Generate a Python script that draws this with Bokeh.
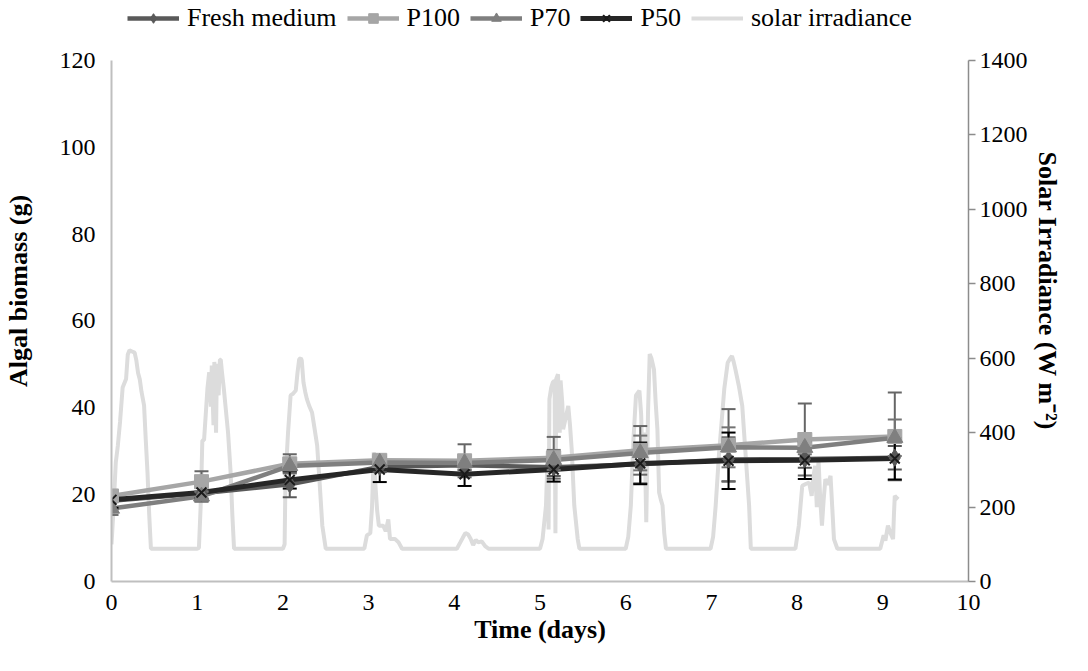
from bokeh.plotting import figure
from bokeh.models import Range1d, LinearAxis, FixedTicker, Legend, LegendItem
from bokeh.embed import file_html
from bokeh.resources import INLINE

# ---------------- data ----------------
days = [0, 1.05, 2.08, 3.13, 4.12, 5.16, 6.17, 7.2, 8.09, 9.14]

fresh = [18.6, 20.3, 22.4, 26.4, 26.8, 26.3, 27.0, 28.1, 28.2, 28.5]
p100 = [19.7, 23.0, 27.1, 27.9, 27.8, 28.5, 30.2, 31.4, 32.7, 33.4]
p70 = [16.8, 19.6, 26.6, 27.4, 27.3, 28.0, 29.6, 30.9, 30.8, 33.1]
p50 = [18.8, 20.5, 23.4, 25.8, 24.7, 25.8, 27.2, 27.8, 27.9, 28.3]

fresh_err = [2.0, 1.9, 3.0, 1.2, 1.2, 2.0, 4.4, 5.1, 2.0, 2.7]
p100_err = [1.2, 2.4, 2.2, 1.2, 3.8, 4.8, 5.6, 8.3, 8.3, 10.1]
p70_err = [1.5, 1.2, 1.5, 1.0, 1.5, 2.3, 4.0, 4.6, 1.5, 4.2]
p50_err = [1.8, 1.4, 2.0, 2.9, 2.7, 2.8, 4.8, 6.5, 4.3, 4.8]

irr_day = [
    0.0, 0.02, 0.05, 0.074, 0.10, 0.13, 0.17, 0.19, 0.21, 0.24, 0.27, 0.29, 0.31, 0.33, 0.35, 0.38, 0.40, 0.42, 0.44, 0.46,
    0.6, 0.8, 1.0,
    1.02, 1.04, 1.06, 1.08, 1.10, 1.12, 1.14, 1.16, 1.17, 1.19, 1.20, 1.22, 1.23, 1.25, 1.265, 1.275, 1.29, 1.31, 1.33, 1.36, 1.39, 1.41, 1.43,
    1.6, 1.8, 2.0,
    2.02, 2.03, 2.06, 2.09, 2.12, 2.15, 2.17, 2.19, 2.21, 2.22, 2.24, 2.26, 2.28, 2.31, 2.34, 2.37, 2.40, 2.43, 2.46, 2.50,
    2.7, 2.95,
    2.98, 3.02, 3.04, 3.06, 3.07, 3.08, 3.10, 3.12, 3.15, 3.17, 3.20, 3.23, 3.25, 3.31, 3.35, 3.39,
    3.6, 3.8, 4.03,
    4.07, 4.10, 4.13, 4.16, 4.19, 4.22, 4.25, 4.28, 4.32, 4.36, 4.40,
    4.6, 4.8, 5.0,
    5.03, 5.07, 5.09, 5.10, 5.11, 5.13, 5.15, 5.17, 5.18, 5.19, 5.21, 5.23, 5.24, 5.26, 5.27, 5.30, 5.33, 5.35, 5.37, 5.40, 5.44, 5.46,
    5.6, 5.8, 6.0,
    6.03, 6.06, 6.09, 6.12, 6.16, 6.18, 6.20, 6.22, 6.24, 6.26, 6.28, 6.30, 6.33, 6.35, 6.37, 6.39, 6.41, 6.43, 6.45, 6.47,
    6.6, 6.8, 6.99,
    7.02, 7.05, 7.09, 7.12, 7.15, 7.19, 7.22, 7.24, 7.26, 7.28, 7.32, 7.36, 7.40, 7.44, 7.46,
    7.7, 7.98,
    8.02, 8.06, 8.10, 8.14, 8.17, 8.19, 8.21, 8.23, 8.25, 8.27, 8.29, 8.31, 8.33, 8.36, 8.39, 8.41, 8.43, 8.47,
    8.7, 8.97,
    9.01, 9.03, 9.06, 9.09, 9.12, 9.13, 9.14, 9.16, 9.18,
]
irr_val = [
    100, 180, 320, 365, 430, 521, 544, 610, 621, 618, 615, 594, 560, 543, 510, 473, 380, 293, 180, 88,
    88, 88, 88,
    90, 200, 379, 380, 450, 520, 562, 470, 580, 420, 590, 400, 585, 500, 596, 596, 560, 520, 472, 400, 293, 180, 88,
    88, 88, 88,
    100, 275, 400, 500, 505, 513, 560, 597, 600, 594, 535, 510, 490, 470, 454, 410, 365, 260, 150, 88,
    88, 88,
    124, 130, 200, 347, 330, 257, 190, 150, 150, 150, 135, 167, 114, 114, 105, 88,
    88, 88, 88,
    105, 118, 130, 127, 115, 98, 112, 105, 108, 95, 88,
    88, 88, 88,
    114, 204, 350, 140, 490, 520, 535, 540, 130, 545, 557, 400, 540, 480, 409, 440, 472, 420, 355, 204, 114, 88,
    88, 88, 88,
    120, 204, 380, 500, 513, 450, 293, 400, 159, 450, 611, 600, 570, 480, 409, 239, 220, 204, 130, 88,
    88, 88, 88,
    120, 204, 347, 430, 517, 588, 600, 606, 590, 570, 526, 472, 338, 204, 88,
    88, 88,
    150, 257, 262, 266, 230, 280, 311, 200, 329, 220, 150, 220, 275, 260, 284, 200, 114, 88,
    88, 88,
    124, 110, 150, 130, 114, 180, 230, 225, 221,
]

series_names = ["Fresh medium", "P100", "P70", "P50", "solar irradiance"]
y_ticks = [0, 20, 40, 60, 80, 100, 120]
x_ticks = [0, 1, 2, 3, 4, 5, 6, 7, 8, 9, 10]
irr_ticks = [0, 200, 400, 600, 800, 1000, 1200, 1400]

# ---------------- styles ----------------
FONT = "Liberation Serif"
colors = {"fresh": "#595959", "p100": "#a6a6a6", "p70": "#7f7f7f", "p50": "#262626"}
err_colors = {"fresh": "#595959", "p100": "#666666", "p70": "#737373", "p50": "#000000"}
line_w = {"fresh": 4.5, "p100": 4.5, "p70": 4.5, "p50": 5}
marker_kw = {
    "fresh": dict(marker="diamond", size=17, fill_color=colors["fresh"], line_color=colors["fresh"]),
    "p100": dict(marker="square", size=14, fill_color=colors["p100"], line_color=colors["p100"]),
    "p70": dict(marker="triangle", size=16, fill_color=colors["p70"], line_color=colors["p70"]),
    "p50": dict(marker="x", size=14, line_color="#1a1a1a", line_width=2),
}
IRR_COLOR = "#dcdcdc"

# The frame reaches the top of the figure so the legend can sit above the
# axis extent (axes are bounded to their tick range, as in the original).
Y_MAX, IRR_MAX = 120, 1400
HEAD = 1.115  # headroom factor above the highest tick, room for the legend
y_end = Y_MAX * HEAD
irr_end = IRR_MAX * HEAD

p = figure(width=1072, height=655, output_backend="svg", toolbar_location=None,
           x_range=Range1d(0, 10), y_range=Range1d(0, y_end),
           min_border_left=104, min_border_right=104,
           min_border_top=0, min_border_bottom=74)
p.outline_line_color = None
p.xgrid.visible = False
p.ygrid.visible = False
p.background_fill_color = "white"
p.border_fill_color = "white"
p.extra_y_ranges = {"irr": Range1d(0, irr_end)}


def style_axis(ax):
    ax.major_label_text_font = FONT
    ax.major_label_text_font_size = "24px"
    ax.major_label_text_color = "black"
    ax.axis_label_text_font = FONT
    ax.axis_label_text_font_size = "26px"
    ax.axis_label_text_font_style = "bold"
    ax.axis_label_text_color = "black"
    ax.minor_tick_line_color = None
    ax.minor_tick_out = 0
    ax.minor_tick_in = 0


xa = p.xaxis[0]
style_axis(xa)
xa.ticker = FixedTicker(ticks=x_ticks)
xa.axis_label = "Time (days)"
xa.axis_line_color = "#bfbfbf"
xa.axis_line_width = 2
xa.major_tick_line_color = None
xa.major_tick_out = 0
xa.major_tick_in = 0
xa.major_label_standoff = 13
xa.axis_label_standoff = 2

ya = p.yaxis[0]
style_axis(ya)
ya.ticker = FixedTicker(ticks=y_ticks)
ya.bounds = (0, Y_MAX)
ya.axis_label = "Algal biomass (g)"
ya.axis_line_color = "#bfbfbf"
ya.axis_line_width = 2
ya.major_tick_line_color = None
ya.major_tick_out = 0
ya.major_tick_in = 0
ya.major_label_standoff = 16
ya.axis_label_standoff = 24

ra = LinearAxis(y_range_name="irr", ticker=FixedTicker(ticks=irr_ticks))
style_axis(ra)
ra.bounds = (0, IRR_MAX)
ra.axis_label = "Solar Irradiance (W m\u207b\u00b2)"
ra.axis_line_color = "#8c8c8c"
ra.axis_line_width = 1.5
ra.major_tick_line_color = "#8c8c8c"
ra.major_tick_line_width = 1.5
ra.major_tick_in = 0
ra.major_tick_out = 7
ra.major_label_standoff = 4
ra.axis_label_standoff = 2
p.add_layout(ra, "right")

irr_line = p.line(irr_day, irr_val, y_range_name="irr", line_color=IRR_COLOR, line_width=4)

sets = [("fresh", fresh, fresh_err), ("p100", p100, p100_err), ("p70", p70, p70_err), ("p50", p50, p50_err)]
lines = {}
for key, vals, _ in sets:
    lines[key] = p.line(days, vals, line_color=colors[key], line_width=line_w[key])

for key, vals, err in sets:
    up = [v + e for v, e in zip(vals, err)]
    lo = [v - e for v, e in zip(vals, err)]
    p.segment(days, lo, days, up, line_color=err_colors[key], line_width=2)
    p.scatter(days, up, marker="dash", size=14, line_color=err_colors[key], line_width=2)
    p.scatter(days, lo, marker="dash", size=14, line_color=err_colors[key], line_width=2)

marks = {}
for key, vals, _ in sets:
    marks[key] = p.scatter(days, vals, **marker_kw[key])

items = [LegendItem(label=name, renderers=[lines[key], marks[key]])
         for name, (key, _, _) in zip(series_names[:4], sets)]
items.append(LegendItem(label=series_names[4], renderers=[irr_line]))

legend = Legend(items=items, orientation="horizontal", location="top_left")
legend.label_text_font = FONT
legend.label_text_font_size = "26px"
legend.label_text_color = "black"
legend.label_height = 24
legend.glyph_width = 52
legend.glyph_height = 24
legend.label_standoff = 8
legend.spacing = 10
legend.padding = 0
legend.margin = 0
legend.border_line_color = None
legend.background_fill_alpha = 0
p.add_layout(legend, "center")
legend.location = (16, 548)

open("out.html", "w").write(file_html(p, INLINE))
